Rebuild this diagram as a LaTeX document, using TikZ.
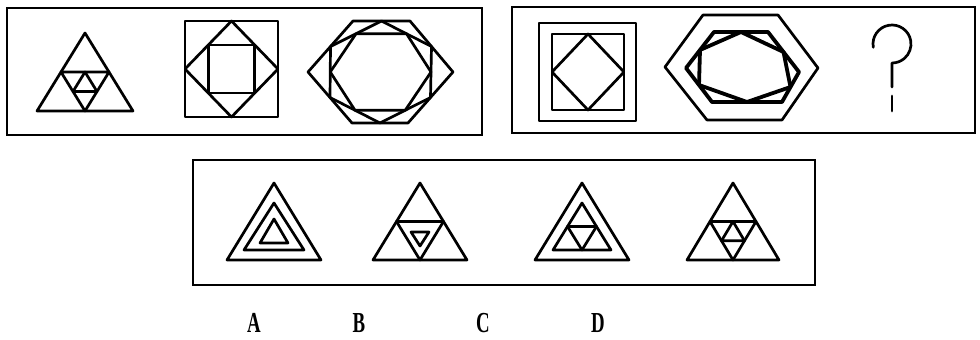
\documentclass[tikz,border=0pt]{standalone}
\usepackage{fontspec}
\setmainfont{Liberation Serif}
\usetikzlibrary{calc}
\tikzset{
  fig/.style={line width=2.7pt, line join=round, line cap=round},
  thickfig/.style={line width=3.8pt, line join=round, line cap=round},
  frame/.style={line width=2.2pt},
  lab/.style={font=\fontsize{29}{29}\selectfont\bfseries, inner sep=0pt}
}
% triangle with midpoint subdivision (two levels): #1 apex, #2 bottom left, #3 bottom right
\newcommand{\sierpTwo}[3]{%
  \draw[fig] #1 -- #2 -- #3 -- cycle;
  \draw[fig] ($#1!0.5!#2$) -- ($#1!0.5!#3$) -- ($#2!0.5!#3$) -- cycle;
  \draw[fig] ($#1!0.5!($#2!0.5!#3$)$) -- ($#2!0.5!($#1!0.5!#3$)$) -- ($#3!0.5!($#1!0.5!#2$)$) -- cycle;
}
\begin{document}
\begin{tikzpicture}[x=1pt,y=-1pt]
\useasboundingbox (0,0) rectangle (980,340);
% frames
\draw[frame] (7,8) rectangle (482,135);
\draw[frame] (512,7) rectangle (975,133);
\draw[frame] (193,160) rectangle (815,285);

% --- box 1, figure 1: triangle
\sierpTwo{(85,33)}{(37,111)}{(133,111)}

% --- box 1, figure 2: square
\coordinate (s1) at (185,21); \coordinate (s2) at (278,21);
\coordinate (s3) at (278,117); \coordinate (s4) at (185,117);
\draw[fig] (s1) -- (s2) -- (s3) -- (s4) -- cycle;
\coordinate (d1) at ($(s1)!0.5!(s2)$); \coordinate (d2) at ($(s2)!0.5!(s3)$);
\coordinate (d3) at ($(s3)!0.5!(s4)$); \coordinate (d4) at ($(s4)!0.5!(s1)$);
\draw[fig] (d1) -- (d2) -- (d3) -- (d4) -- cycle;
\draw[fig] ($(d1)!0.5!(d2)$) -- ($(d2)!0.5!(d3)$) -- ($(d3)!0.5!(d4)$) -- ($(d4)!0.5!(d1)$) -- cycle;

% --- box 1, figure 3: hexagon
\coordinate (h1) at (308,72); \coordinate (h2) at (353,21); \coordinate (h3) at (410,21);
\coordinate (h4) at (453,72); \coordinate (h5) at (408,123); \coordinate (h6) at (352,123);
\draw[fig] (h1) -- (h2) -- (h3) -- (h4) -- (h5) -- (h6) -- cycle;
\coordinate (m1) at ($(h1)!0.5!(h2)$); \coordinate (m2) at ($(h2)!0.5!(h3)$);
\coordinate (m3) at ($(h3)!0.5!(h4)$); \coordinate (m4) at ($(h4)!0.5!(h5)$);
\coordinate (m5) at ($(h5)!0.5!(h6)$); \coordinate (m6) at ($(h6)!0.5!(h1)$);
\draw[fig] (m1) -- (m2) -- (m3) -- (m4) -- (m5) -- (m6) -- cycle;
\draw[fig] ($(m1)!0.5!(m2)$) -- ($(m2)!0.5!(m3)$) -- ($(m3)!0.5!(m4)$) -- ($(m4)!0.5!(m5)$) -- ($(m5)!0.5!(m6)$) -- ($(m6)!0.5!(m1)$) -- cycle;

% --- box 2, figure 1: square
\draw[fig] (539,23) rectangle (636,121);
\draw[fig] (552,34) rectangle (624,110);
\draw[fig] (588,34) -- (624,72) -- (588,110) -- (552,72) -- cycle;

% --- box 2, figure 2: hexagon
\draw[fig] (665,67) -- (703,15) -- (778,15) -- (818,68) -- (782,120) -- (707,120) -- cycle;
\coordinate (g1) at (686,68); \coordinate (g2) at (714,32); \coordinate (g3) at (768,32);
\coordinate (g4) at (799,72); \coordinate (g5) at (782,102); \coordinate (g6) at (712,102);
\draw[thickfig] (g1) -- (g2) -- (g3) -- (g4) -- (g5) -- (g6) -- cycle;
\draw[thickfig] ($(g1)!0.5!(g2)$) -- ($(g2)!0.5!(g3)$) -- ($(g3)!0.5!(g4)$) -- ($(g4)!0.5!(g5)$) -- ($(g5)!0.5!(g6)$) -- ($(g6)!0.5!(g1)$) -- cycle;

% --- box 2: question mark
\draw[fig] ($(892,44)+(170:19)$) arc[start angle=170, end angle=450, radius=19] -- (892,87);
\draw[fig] (892,96) -- (892,111);

% --- box 3, A
\draw[fig] (274,183) -- (227,260) -- (321,260) -- cycle;
\draw[fig] (274,203) -- (244,250) -- (304,250) -- cycle;
\draw[fig] (274,219) -- (260,243) -- (288,243) -- cycle;

% --- box 3, B
\draw[fig] (420,183) -- (373,260) -- (467,260) -- cycle;
\draw[fig] ($(420,183)!0.5!(373,260)$) -- ($(420,183)!0.5!(467,260)$) -- (420,260) -- cycle;
\draw[fig] (411,232) -- (429,232) -- (420,246) -- cycle;

% --- box 3, C
\draw[fig] (582,183) -- (535,260) -- (629,260) -- cycle;
\draw[fig] (582,203) -- (553,250) -- (611,250) -- cycle;
\draw[fig] ($(582,203)!0.5!(553,250)$) -- ($(582,203)!0.5!(611,250)$) -- (582,250) -- cycle;

% --- box 3, D
\sierpTwo{(733,183)}{(687,260)}{(779,260)}

% labels
\node[lab] (la) at (254,323) {\scalebox{0.65}[1]{A}};
\node[lab] (lb) at (359,323) {\scalebox{0.65}[1]{B}};
\node[lab] (lc) at (483,323) {\scalebox{0.65}[1]{C}};
\node[lab] (ld) at (598,323) {\scalebox{0.65}[1]{D}};
\end{tikzpicture}
\end{document}
